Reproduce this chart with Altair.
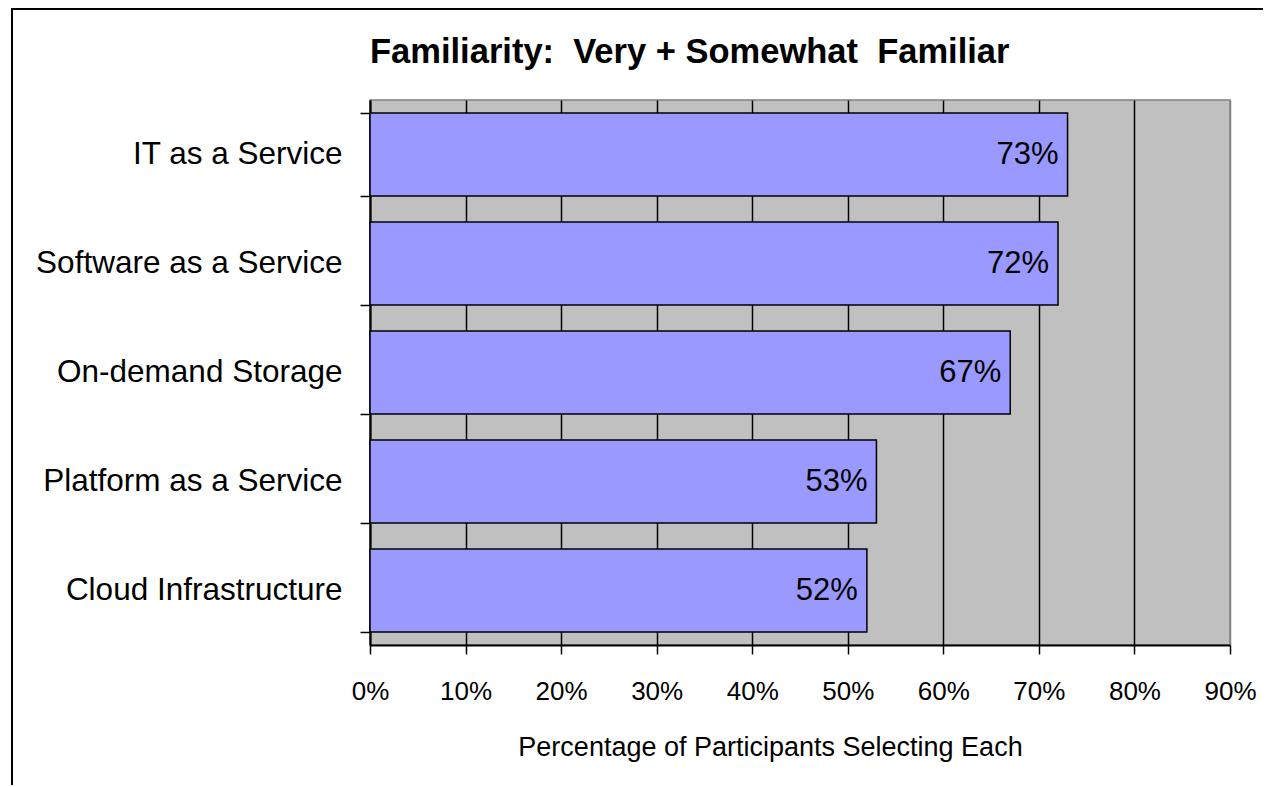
import altair as alt
import pandas as pd

categories = ["IT as a Service", "Software as a Service", "On-demand Storage",
              "Platform as a Service", "Cloud Infrastructure"]
values = [0.73, 0.72, 0.67, 0.53, 0.52]
tick_values = [0, 0.1, 0.2, 0.3, 0.4, 0.5, 0.6, 0.7, 0.8, 0.9]
title_text = "Familiarity:\u00a0 Very + Somewhat\u00a0 Familiar"

df = pd.DataFrame({"cat": categories, "val": values})
FONT = "Liberation Sans"

base = alt.Chart(df)

x_enc = alt.X(
    "val:Q",
    scale=alt.Scale(domain=[0, 0.9], nice=False),
    axis=alt.Axis(
        values=tick_values, format=".0%", title="Percentage of Participants Selecting Each",
        grid=True, gridColor=alt.expr("datum.value >= 0.9 ? '#808080' : '#000000'"),
        gridWidth=1.5, domainColor="#000000", domainWidth=2,
        tickColor="#000000", tickSize=9, tickWidth=1.5, labelFlush=False,
        labelFontSize=26, labelColor="#000000", labelFont=FONT, labelPadding=24,
        titleFontSize=27, titleFont=FONT, titleFontWeight="normal", titleColor="#000000",
        titlePadding=30, titleX=400, titleAlign="center", titleAnchor="start",
    ),
)
y_enc = alt.Y(
    "cat:N", sort=categories,
    scale=alt.Scale(paddingInner=0.24, paddingOuter=0.12),
    axis=alt.Axis(
        title=None, tickBand="extent", domainColor="#000000", domainWidth=2,
        tickColor="#000000", tickSize=10, tickWidth=1.5,
        labelFontSize=31.5, labelColor="#000000", labelFont=FONT, labelPadding=18,
        labelLimit=400,
    ),
)

bars = base.mark_bar(color="#9999FF", stroke="#000000", strokeWidth=1.5).encode(x=x_enc, y=y_enc)

text = base.mark_text(align="right", baseline="middle", dx=-9, fontSize=31,
                      font=FONT, color="#000000").encode(
    x="val:Q", y=alt.Y("cat:N", sort=categories),
    text=alt.Text("val:Q", format=".0%"),
)

one = alt.Chart(pd.DataFrame({"t": [title_text]}))

title = one.mark_text(align="left", baseline="alphabetic", fontSize=34.5, font=FONT,
                      fontWeight="bold", color="#000000", clip=False).encode(
    x=alt.value(0), y=alt.value(-37), text="t:N")

border = one.mark_rect(
    filled=False, stroke="#000000", strokeWidth=2, clip=False
).encode(x=alt.value(-358), x2=alt.value(960), y=alt.value(-91), y2=alt.value(800))

chart = alt.layer(bars, text, title, border).properties(
    width=860, height=545,
    autosize=alt.AutoSizeParams(type="none"),
    padding={"left": 362, "top": 92, "right": 33, "bottom": 140},
).configure(background="white").configure_view(
    fill="#C0C0C0", stroke="#808080", strokeWidth=1.5
)

chart.save("out.html", embed_options={"renderer": "svg", "actions": False})
